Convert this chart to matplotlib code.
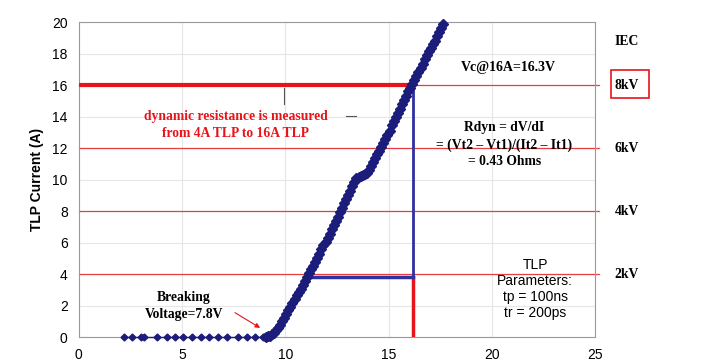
import matplotlib.pyplot as plt
from matplotlib.patches import Rectangle

# TLP I-V data (V, A)
flat_v = [2.2, 2.6, 3.0, 3.15, 3.8, 4.25, 4.65, 5.05, 5.5, 5.9, 6.3, 6.75, 7.2, 7.7, 8.15, 8.55, 8.9, 8.95, 9.0]
flat_i = [0.0] * len(flat_v)

curve_v = [9.05, 9.15, 9.25, 9.35, 9.45, 9.55, 9.65, 9.75, 9.85, 9.95, 10.05, 10.15, 10.25, 10.35,
           10.45, 10.55, 10.65, 10.75, 10.85, 10.95, 11.05, 11.15, 11.25, 11.35, 11.45, 11.55,
           11.65, 11.75, 11.85, 11.95, 12.05, 12.15, 12.25, 12.35, 12.45, 12.55, 12.65, 12.75,
           12.85, 12.95, 13.05, 13.15, 13.25, 13.35, 13.45, 13.55, 13.65, 13.75, 13.85, 13.95,
           14.05, 14.15, 14.25, 14.35, 14.45, 14.55, 14.65, 14.75, 14.85, 14.95, 15.05, 15.15,
           15.25, 15.35, 15.45, 15.55, 15.65, 15.75, 15.85, 15.95, 16.05, 16.15, 16.25, 16.35,
           16.45, 16.55, 16.65, 16.75, 16.85, 16.95, 17.05, 17.15, 17.25, 17.35, 17.45, 17.55, 17.65]
curve_i = [0.02, 0.05, 0.1, 0.2, 0.3, 0.45, 0.6, 0.8, 1.0, 1.2, 1.45, 1.7, 1.95, 2.2,
           2.4, 2.65, 2.85, 3.05, 3.3, 3.55, 3.8, 4.05, 4.3, 4.55, 4.8, 5.05,
           5.3, 5.6, 5.85, 6.05, 6.3, 6.55, 6.85, 7.1, 7.35, 7.6, 7.95, 8.2,
           8.55, 8.8, 9.05, 9.3, 9.6, 9.85, 10.1, 10.2, 10.25, 10.3, 10.35, 10.4,
           10.6, 10.9, 11.15, 11.35, 11.6, 11.85, 12.05, 12.3, 12.6, 12.85, 13.1, 13.45,
           13.7, 14.0, 14.25, 14.5, 14.8, 15.05, 15.3, 15.6, 15.85, 16.05, 16.3, 16.6,
           16.85, 17.1, 17.35, 17.65, 17.9, 18.15, 18.35, 18.6, 18.8, 19.1, 19.4, 19.65, 19.9]

iec_levels = [4, 8, 12, 16]
iec_labels = ["2kV", "4kV", "6kV", "8kV"]

v_16a = 16.2   # Vt2
v_4a = 11.1    # Vt1
i_low = 3.8

blue = "#1c1c7a"
red = "#e8141b"

fig = plt.figure(figsize=(7.16, 3.63), dpi=100)
ax = fig.add_axes([0.11, 0.071, 0.721, 0.868])

ax.set_xlim(0, 25)
ax.set_ylim(0, 20)
ax.set_xticks(range(0, 26, 5))
ax.set_yticks(range(0, 21, 2))
ax.grid(color="#e6e6e6", lw=0.8)
ax.set_axisbelow(True)
for s in ax.spines.values():
    s.set_color("#999999")
ax.tick_params(length=0, labelsize=10, pad=8)
for t in ax.get_xticklabels() + ax.get_yticklabels():
    t.set_family("Liberation Sans")
ax.set_ylabel("TLP Current (A)", fontsize=10, fontweight="bold", family="Liberation Sans", labelpad=6)

# IEC reference lines
for lvl in iec_levels:
    ax.plot([0, 25.2], [lvl, lvl], color=red, lw=0.9, alpha=0.8, clip_on=False, zorder=2)
ax.plot([0, v_16a], [16, 16], color=red, lw=3, zorder=3)
ax.plot([v_16a, v_16a], [0, i_low], color=red, lw=2.5, zorder=3)
ax.plot([v_16a, v_16a], [i_low, 16], color="#3030a0", lw=2, zorder=3)
ax.plot([v_4a, v_16a], [i_low, i_low], color="#3030a0", lw=2.5, zorder=3)

# data
ax.plot(flat_v, flat_i, color=blue, marker="D", ms=3.5, lw=1, clip_on=False, zorder=4)
ax.plot(curve_v, curve_i, color=blue, marker="D", ms=4.8, lw=2.8, clip_on=False, zorder=4)

serif = "Liberation Serif"
fs = 9.8
ax.text(7.6, 14.0, "dynamic resistance is measured", color=red, fontsize=fs, fontweight="bold",
        family=serif, ha="center", va="center")
ax.text(7.6, 12.9, "from 4A TLP to 16A TLP", color=red, fontsize=fs, fontweight="bold",
        family=serif, ha="center", va="center")
ax.plot([9.95, 9.95], [14.8, 15.8], color="#555555", lw=0.8)
ax.plot([12.95, 13.45], [14.05, 14.05], color="#555555", lw=0.8)

ax.text(20.8, 17.1, "Vc@16A=16.3V", fontsize=10, fontweight="bold", family=serif, ha="center", va="center")
ax.text(20.6, 13.3, "Rdyn = dV/dI", fontsize=fs, fontweight="bold", family=serif, ha="center", va="center")
ax.text(20.6, 12.2, "= (Vt2 \u2013 Vt1)/(It2 \u2013 It1)", fontsize=fs, fontweight="bold", family=serif,
        ha="center", va="center")
ax.text(20.6, 11.15, "= 0.43 Ohms", fontsize=fs, fontweight="bold", family=serif, ha="center", va="center")

ax.text(5.1, 2.55, "Breaking", fontsize=fs, fontweight="bold", family=serif, ha="center", va="center")
ax.text(5.1, 1.45, "Voltage=7.8V", fontsize=fs, fontweight="bold", family=serif, ha="center", va="center")
ax.annotate("", xy=(8.9, 0.5), xytext=(7.45, 1.65),
            arrowprops=dict(arrowstyle="-|>", color=red, lw=0.8, mutation_scale=7))

ax.text(22.1, 3.05, "TLP\nParameters:\ntp = 100ns\ntr = 200ps", fontsize=10, family="Liberation Sans",
        ha="center", va="center", linespacing=1.2)

# IEC column
ax.text(26.55, 18.75, "IEC", fontsize=fs, fontweight="bold", family=serif, ha="center", va="center",
        clip_on=False)
for lvl, lab in zip(iec_levels, iec_labels):
    ax.text(26.55, lvl, lab, fontsize=fs, fontweight="bold", family=serif, ha="center", va="center",
            clip_on=False)
fig.patches.append(Rectangle((611 / 716, 1 - 98 / 363), 38 / 716, 28 / 363, transform=fig.transFigure,
                             fill=False, edgecolor=red, lw=1.2))

fig.savefig("out.png", dpi=100)
